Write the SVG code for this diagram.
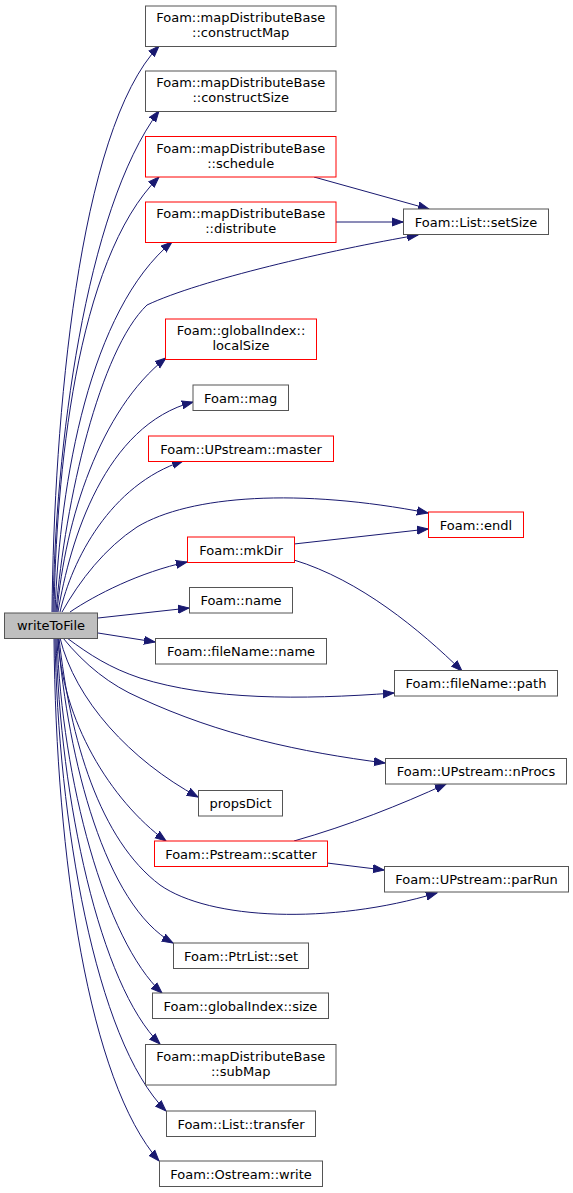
<svg xmlns="http://www.w3.org/2000/svg" width="573" height="1193" viewBox="0 0 573 1193">
<style>
.n rect{fill:#ffffff;stroke:#555555;stroke-width:1}
.n.r rect{stroke:#ff0000}
.n.g rect{fill:#bfbfbf}
.n text{font-family:"DejaVu Sans",sans-serif;font-size:13px;text-anchor:middle;fill:#000000}
#edges path{fill:none;stroke:#191970;stroke-width:1;marker-end:url(#ah)}
</style>
<defs>
<marker id="ah" markerUnits="userSpaceOnUse" markerWidth="12" markerHeight="10" refX="11" refY="4" orient="auto" viewBox="0 0 12 8">
<path d="M0,0 L11,4 L0,8 z" fill="#191970" stroke="#191970" stroke-width="1"/>
</marker>
</defs>
<rect width="573" height="1193" fill="#ffffff"/>
<g id="edges">
<path d="M52,612 C54,420 78,130 159,46"/>
<path d="M53,612 C55,450 85,210 159,111"/>
<path d="M54,612 C56,480 75,260 159,177"/>
<path d="M55,612 C60,480 90,310 172,242"/>
<path d="M56,612 C65,500 100,350 147,305 C200,280 330,250 418,235"/>
<path d="M314,177 L429,209"/>
<path d="M336,222 L403,222"/>
<path d="M57,612 C65,520 100,410 166,358"/>
<path d="M58,612 C70,540 105,425 193,402"/>
<path d="M60,612 C72,560 110,485 183,461"/>
<path d="M62,612 C80,580 105,548 137,527 C190,495 300,488 428,513"/>
<path d="M70,612 C95,595 140,572 187,562"/>
<path d="M294,544 L428,529"/>
<path d="M294,560 C360,580 420,630 462,671"/>
<path d="M98,618 L189,608"/>
<path d="M98,633 L155,642"/>
<path d="M67,638 C90,655 110,668 140,678 C210,700 300,700 394,693"/>
<path d="M63,638 C85,665 110,685 140,698 C220,735 300,752 385,763"/>
<path d="M60,638 C75,700 130,760 198,797"/>
<path d="M58,638 C62,720 110,800 166,841"/>
<path d="M294,841 C350,825 400,805 446,784"/>
<path d="M327,863 L384,870"/>
<path d="M59,638 C70,740 100,840 160,885 C210,920 330,925 437,893"/>
<path d="M58,638 C68,760 105,905 173,943"/>
<path d="M57,638 C62,780 105,940 162,993"/>
<path d="M56,638 C60,800 100,985 160,1044"/>
<path d="M55,638 C58,820 95,1040 166,1111"/>
<path d="M54,638 C56,860 89,1081 159,1161"/>
</g>
<g id="writeToFile" class="n g"><rect x="4.5" y="613" width="93" height="25.5"/><text x="51" y="630">writeToFile</text></g>
<g id="constructMap" class="n"><rect x="145.5" y="6" width="190.5" height="40.5"/><text x="240.7" y="22">Foam::mapDistributeBase</text><text x="240.7" y="37">::constructMap</text></g>
<g id="constructSize" class="n"><rect x="145.5" y="71" width="190.5" height="40.5"/><text x="240.7" y="87">Foam::mapDistributeBase</text><text x="240.7" y="102">::constructSize</text></g>
<g id="schedule" class="n r"><rect x="145.5" y="136.5" width="190.5" height="40.5"/><text x="240.7" y="152.5">Foam::mapDistributeBase</text><text x="240.7" y="167.5">::schedule</text></g>
<g id="distribute" class="n r"><rect x="145.5" y="202" width="190.5" height="40.5"/><text x="240.7" y="218">Foam::mapDistributeBase</text><text x="240.7" y="233">::distribute</text></g>
<g id="setSize" class="n"><rect x="403.5" y="209" width="145" height="25.5"/><text x="476" y="226.5">Foam::List::setSize</text></g>
<g id="localSize" class="n r"><rect x="165.5" y="319" width="151" height="40.5"/><text x="241" y="335">Foam::globalIndex::</text><text x="241" y="350">localSize</text></g>
<g id="mag" class="n"><rect x="193" y="385" width="95.5" height="25.5"/><text x="240.7" y="402.5">Foam::mag</text></g>
<g id="master" class="n r"><rect x="148.5" y="436" width="185" height="25.5"/><text x="241" y="453.5">Foam::UPstream::master</text></g>
<g id="endl" class="n r"><rect x="428.5" y="512" width="95" height="25.5"/><text x="476" y="529.5">Foam::endl</text></g>
<g id="mkDir" class="n r"><rect x="187.5" y="537" width="107" height="25.5"/><text x="241" y="554.5">Foam::mkDir</text></g>
<g id="name" class="n"><rect x="189.5" y="587.5" width="103" height="25.5"/><text x="241" y="605">Foam::name</text></g>
<g id="fileNameName" class="n"><rect x="155.5" y="638.5" width="171" height="25.5"/><text x="241" y="656">Foam::fileName::name</text></g>
<g id="path" class="n"><rect x="394.5" y="670.5" width="163" height="25.5"/><text x="476" y="688">Foam::fileName::path</text></g>
<g id="nProcs" class="n"><rect x="385.5" y="758.5" width="181" height="25.5"/><text x="476" y="776">Foam::UPstream::nProcs</text></g>
<g id="propsDict" class="n"><rect x="198.5" y="790.5" width="84" height="25.5"/><text x="240.5" y="808">propsDict</text></g>
<g id="scatter" class="n r"><rect x="154.5" y="841" width="173" height="25.5"/><text x="241" y="858.5">Foam::Pstream::scatter</text></g>
<g id="parRun" class="n"><rect x="384.5" y="866.5" width="184" height="25.5"/><text x="476.5" y="884">Foam::UPstream::parRun</text></g>
<g id="ptrListSet" class="n"><rect x="173.5" y="943" width="135" height="25.5"/><text x="241" y="960.5">Foam::PtrList::set</text></g>
<g id="globalIndexSize" class="n"><rect x="152.5" y="993" width="176" height="25.5"/><text x="240.5" y="1010.5">Foam::globalIndex::size</text></g>
<g id="subMap" class="n"><rect x="145.5" y="1044.5" width="190.5" height="40.5"/><text x="240.7" y="1060.5">Foam::mapDistributeBase</text><text x="240.7" y="1075.5">::subMap</text></g>
<g id="transfer" class="n"><rect x="166.5" y="1111" width="149" height="25.5"/><text x="241" y="1128.5">Foam::List::transfer</text></g>
<g id="ostreamWrite" class="n"><rect x="159.5" y="1161" width="163" height="25.5"/><text x="241" y="1178.5">Foam::Ostream::write</text></g>
</svg>
